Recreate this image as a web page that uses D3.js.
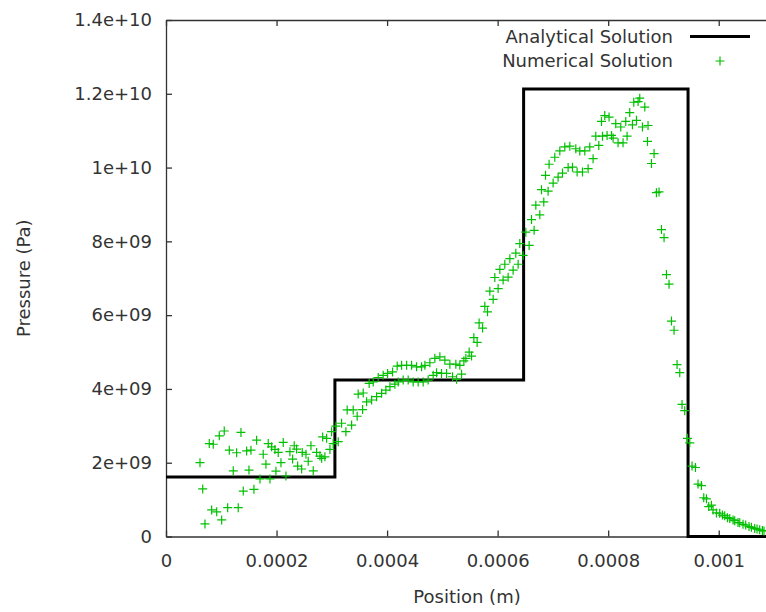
<!DOCTYPE html>
<html>
<head>
<meta charset="utf-8">
<script src="https://cdn.jsdelivr.net/npm/d3@7"></script>
<style>
  html, body { margin: 0; padding: 0; background: #fff; }
  svg { display: block; }
  text { font-family: "DejaVu Sans", sans-serif; fill: #333; }
</style>
</head>
<body>
<svg id="chart" width="766" height="612"></svg>
<script>
// ---------- data ----------
// Analytical solution (step profile): position (µm) where each level starts, level (GPa)
const analyticX = [0, 305.6, 647, 944.5, 1100];
const analyticP = [1.61, 4.24, 12.13, 0, 0];

// Numerical solution: position (µm) and pressure (GPa)
const numX = [61.5,66.4,70.5,78.3,82.6,85.5,91.7,96.4,100.7,105.4,111.6,114.5,121.7,127.8,130.7,135.6,139.8,145.9,150.1,153.7,159.1,164.0,170.0,175.9,180.8,185.0,188.1,191.1,197.1,198.9,203.1,208.0,212.1,217.0,224.2,229.1,232.0,236.3,238.2,245.4,246.5,253.2,257.3,262.2,266.4,272.5,278.5,281.6,283.5,287.5,290.6,296.6,299.6,302.5,307.4,311.6,317.7,325.5,327.8,335.8,338.7,345.9,347.7,355.7,356.8,362.9,367.6,372.0,374.9,381.0,383.9,390.1,392.9,397.8,400.9,405.1,409.9,414.1,418.3,420.1,426.2,429.1,435.3,438.2,444.3,447.2,453.3,456.2,462.4,465.3,468.4,474.3,477.4,483.4,486.4,489.5,495.5,498.5,504.5,507.6,513.6,518.4,524.4,525.7,531.6,534.7,538.9,542.5,548.5,552.8,557.0,562.9,566.5,572.7,576.8,581.7,585.9,591.9,594.9,600.9,604.0,609.9,613.0,619.0,622.1,628.0,632.9,637.1,640.1,646.1,651.0,657.0,661.3,666.0,669.1,676.3,679.4,683.5,686.6,691.3,693.1,700.4,703.4,709.4,712.5,717.3,721.5,727.5,730.6,735.4,741.4,743.8,748.6,753.5,757.7,763.7,766.7,772.7,777.6,783.0,787.9,789.7,793.8,798.0,801.6,806.0,808.9,813.7,817.9,822.8,826.9,831.8,834.2,839.0,843.9,846.3,851.2,854.1,857.1,862.0,866.2,871.1,872.1,878.3,883.0,887.3,892.0,896.4,901.1,905.4,910.1,914.5,919.2,924.6,929.5,933.6,938.5,943.4,947.6,951.7,957.9,962.6,968.7,972.9,977.8,981.9,986.8,989.7,995.8,1001.8,1006.7,1010.8,1015.7,1019.9,1025.9,1028.9,1034.9,1038.0,1043.9,1048.8,1054.8,1059.1,1065.1,1069.3,1074.1,1079.0,1081.9];
const numP = [2.00,1.29,0.34,2.52,0.72,2.50,0.67,2.73,0.45,2.86,0.78,2.34,1.78,2.27,0.78,2.82,1.23,2.32,1.80,2.34,1.28,2.61,1.56,2.23,1.96,2.52,1.56,2.43,2.36,1.77,2.28,2.00,2.55,1.64,2.30,2.10,2.46,2.37,1.91,1.83,2.28,2.23,2.04,2.46,1.78,2.28,2.18,2.12,2.70,2.16,2.66,2.36,2.84,2.52,2.99,2.57,3.07,2.84,3.43,3.02,3.43,3.26,3.86,3.44,3.89,3.65,4.15,3.70,4.19,3.79,4.31,3.88,4.37,3.97,4.42,4.06,4.46,4.13,4.62,4.19,4.64,4.24,4.64,4.24,4.64,4.19,4.60,4.19,4.60,4.19,4.64,4.24,4.71,4.37,4.83,4.44,4.87,4.42,4.78,4.42,4.67,4.33,4.67,4.26,4.64,4.40,4.76,4.83,5.00,4.89,5.39,5.26,5.79,5.65,6.24,6.09,6.65,6.43,7.02,6.72,7.24,6.95,7.38,7.03,7.53,7.22,7.68,7.38,7.94,7.62,8.25,7.89,8.59,8.30,8.98,8.72,9.40,9.07,9.79,9.36,10.09,9.58,10.28,9.74,10.45,9.85,10.56,10.00,10.58,10.01,10.51,9.88,10.45,9.88,10.45,9.97,10.56,10.24,10.85,10.60,11.25,10.85,11.41,10.87,11.37,10.87,10.80,11.19,10.67,11.10,10.67,11.25,10.85,11.49,11.16,11.77,11.28,11.79,11.88,11.10,11.64,10.71,11.14,10.11,10.38,9.32,9.34,8.32,8.10,7.10,6.84,5.84,5.59,4.66,4.44,3.58,3.41,2.66,2.54,1.91,1.87,1.42,1.38,1.05,1.02,0.81,0.85,0.72,0.64,0.63,0.58,0.56,0.51,0.49,0.45,0.43,0.38,0.37,0.33,0.31,0.27,0.25,0.22,0.20,0.18,0.16,0.15];

const xTickValues = [0, 0.0002, 0.0004, 0.0006, 0.0008, 0.001];
const xTickLabels = ["0", "0.0002", "0.0004", "0.0006", "0.0008", "0.001"];
const yTickValues = [0, 2e9, 4e9, 6e9, 8e9, 1e10, 1.2e10, 1.4e10];
const yTickLabels = ["0", "2e+09", "4e+09", "6e+09", "8e+09", "1e+10", "1.2e+10", "1.4e+10"];

const seriesNames = ["Analytical Solution", "Numerical Solution"];
const xTitle = "Position (m)";
const yTitle = "Pressure (Pa)";

// ---------- chart ----------
(function () {
const svg = d3.select("#chart");
const mLeft = 166, mRight = 774, mTop = 20, mBottom = 536.5;
const FS = 18;
const axisColor = "#333";
const textColor = "#333";
const green = "#00c000";

const x = d3.scaleLinear().domain([0, 0.0011]).range([mLeft, mRight]);
const y = d3.scaleLinear().domain([0, 1.4e10]).range([mBottom, mTop]);

const n = Math.min(numX.length, numP.length);
const analytic = analyticX.map((v, i) => ({x: v * 1e-6, p: analyticP[i] * 1e9}));
const numeric = numX.slice(0, n).map((v, i) => ({x: v * 1e-6, p: numP[i] * 1e9}));

// axes
const gx = svg.append("g").attr("transform", `translate(0,${mBottom})`)
  .call(d3.axisBottom(x).tickValues(xTickValues)
    .tickFormat((d, i) => xTickLabels[i]).tickSizeInner(-6).tickSizeOuter(0).tickPadding(17.5));
const gxt = svg.append("g").attr("transform", `translate(0,${mTop})`)
  .call(d3.axisTop(x).tickValues(xTickValues).tickFormat("").tickSizeInner(-6).tickSizeOuter(0));
const gy = svg.append("g").attr("transform", `translate(${mLeft},0)`)
  .call(d3.axisLeft(y).tickValues(yTickValues)
    .tickFormat((d, i) => yTickLabels[i]).tickSizeInner(-6).tickSizeOuter(0).tickPadding(14));

[gx, gxt, gy].forEach(g => {
  g.selectAll(".domain").attr("stroke", axisColor).attr("stroke-width", 1.3);
  g.selectAll(".tick line").attr("stroke", axisColor).attr("stroke-width", 1.3);
  g.selectAll(".tick text").attr("font-size", FS).attr("font-family", "DejaVu Sans").attr("fill", textColor);
});

// axis titles
svg.append("text").attr("x", 467).attr("y", 596).attr("text-anchor", "middle")
  .attr("dominant-baseline", "central").attr("font-size", FS).attr("fill", textColor).text(xTitle);
svg.append("text").attr("transform", `translate(23,${(mTop + mBottom) / 2}) rotate(-90)`)
  .attr("text-anchor", "middle").attr("dominant-baseline", "central").attr("font-size", FS)
  .attr("fill", textColor).text(yTitle);

// analytical line
const line = d3.line().x(d => x(d.x)).y(d => y(d.p)).curve(d3.curveStepAfter);
svg.append("path").datum(analytic).attr("d", line)
  .attr("fill", "none").attr("stroke", "#000").attr("stroke-width", 3);

// numerical points as "+"
const r = 4.5;
const plusPath = `M${-r},0H${r}M0,${-r}V${r}`;
svg.append("g").selectAll("path").data(numeric).join("path")
  .attr("transform", d => `translate(${x(d.x)},${y(d.p)})`)
  .attr("d", plusPath).attr("stroke", green).attr("stroke-width", 1.2).attr("fill", "none");

// legend
svg.append("text").attr("x", 673).attr("y", 36.5).attr("text-anchor", "end")
  .attr("dominant-baseline", "central").attr("font-size", FS).attr("fill", textColor).text(seriesNames[0]);
svg.append("line").attr("x1", 690).attr("x2", 750).attr("y1", 36.5).attr("y2", 36.5)
  .attr("stroke", "#000").attr("stroke-width", 3);
svg.append("text").attr("x", 673).attr("y", 60.5).attr("text-anchor", "end")
  .attr("dominant-baseline", "central").attr("font-size", FS).attr("fill", textColor).text(seriesNames[1]);
svg.append("path").attr("transform", "translate(720,61)").attr("d", plusPath)
  .attr("stroke", green).attr("stroke-width", 1.2).attr("fill", "none");
})();
</script>
</body>
</html>
